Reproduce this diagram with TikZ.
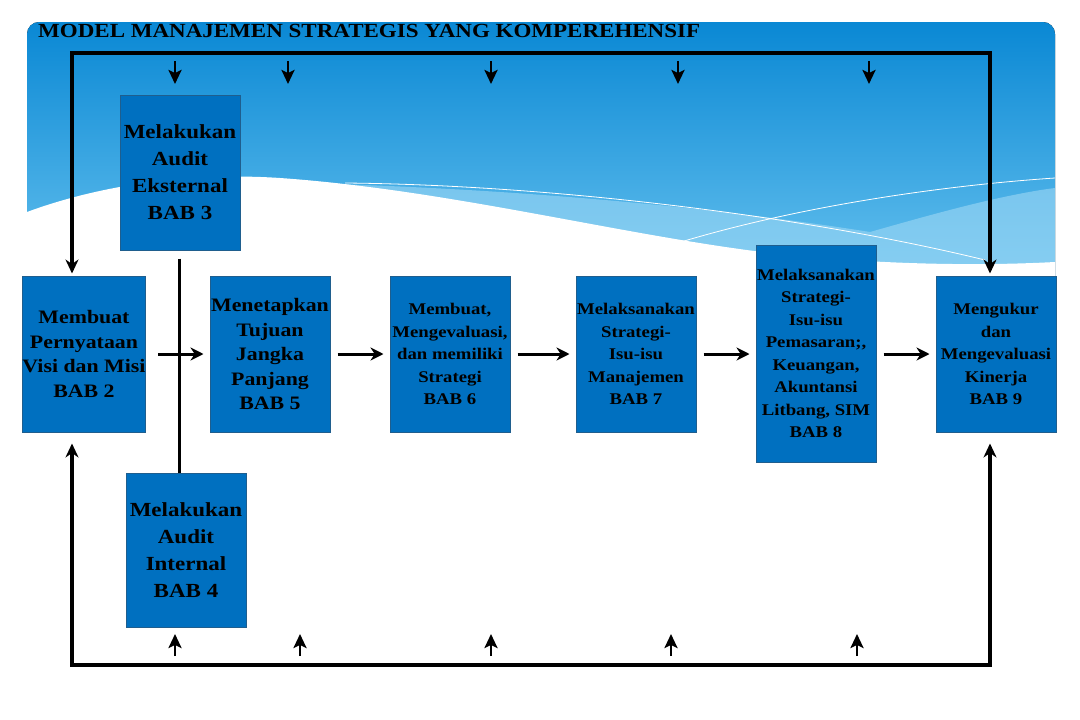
\documentclass[tikz,border=0pt]{standalone}
\usepackage{fontspec}
\setmainfont{Liberation Serif}[FakeStretch=1.15]
\usetikzlibrary{arrows.meta}
\definecolor{boxblue}{HTML}{0070C0}
\definecolor{boxedge}{HTML}{1F5E8E}
\definecolor{bgtop}{HTML}{0A88D4}
\definecolor{bgbot}{HTML}{6CC5F0}
\definecolor{band}{HTML}{9ED8F5}
\begin{document}
\begin{tikzpicture}[x=1pt,y=-1pt,
  box/.style={draw=boxedge, line width=1pt, fill=boxblue, inner sep=0pt,
    minimum width=120pt, align=center, text=black},
  bigtxt/.style={font=\fontsize{20}{27}\selectfont\bfseries},
  midtxt/.style={font=\fontsize{19}{24.5}\selectfont\bfseries},
  smalltxt/.style={font=\fontsize{16.3}{22.5}\selectfont\bfseries},
  mainline/.style={line width=3.2pt},
  flow/.style={line width=3pt, -{Stealth[length=13pt,width=13pt]}},
  tick/.style={line width=2.6pt, -{Stealth[length=14pt,width=13pt,inset=3pt]}}
]
\useasboundingbox (0,0) rectangle (1080,720);
% background banner
\fill[top color=bgtop, bottom color=bgbot, rounded corners=12pt]
  (27,300) -- (27,22) -- (1055,22) -- (1055,300) -- cycle;
\fill[band, opacity=0.6] (300,183) .. controls (500,188) and (700,205) .. (870,232)
  .. controls (930,215) and (1000,195) .. (1055,188)
  -- (1055,300) -- (300,300) -- cycle;
\fill[white] (27,212) .. controls (100,185) and (190,172) .. (280,178)
  .. controls (450,190) and (620,235) .. (770,253)
  .. controls (880,265) and (980,266) .. (1055,262)
  -- (1055,305) -- (27,305) -- cycle;
\draw[white, line width=0.8pt] (345,183) .. controls (550,185) and (800,215) .. (985,260);
\draw[white, line width=0.8pt] (671,245) .. controls (800,205) and (950,185) .. (1055,178);
% title
\node[anchor=west, inner sep=0pt, font=\fontsize{20}{24}\selectfont\bfseries] (title) at (38,31)
  {MODEL MANAJEMEN STRATEGIS YANG KOMPEREHENSIF};
% boxes
\node[box, midtxt, minimum height=156pt] (b1) at (84,354)
  {Membuat\\Pernyataan\\Visi dan Misi\\BAB 2};
\node[box, bigtxt, minimum height=155pt] (ea) at (180,172.5)
  {Melakukan\\Audit\\Eksternal\\BAB 3};
\node[box, midtxt, minimum height=156pt] (b5) at (270,354)
  {Menetapkan\\Tujuan\\Jangka\\Panjang\\BAB 5};
\node[box, smalltxt, minimum height=156pt] (b6) at (450,354)
  {Membuat,\\Mengevaluasi,\\dan memiliki\\Strategi\\BAB 6};
\node[box, smalltxt, minimum height=156pt] (b7) at (636,354)
  {Melaksanakan\\Strategi-\\Isu-isu\\Manajemen\\BAB 7};
\node[box, smalltxt, minimum height=217pt] (b8) at (816,353.5)
  {Melaksanakan\\Strategi-\\Isu-isu\\Pemasaran;,\\Keuangan,\\Akuntansi\\Litbang, SIM\\BAB 8};
\node[box, smalltxt, minimum height=156pt] (b9) at (996,354)
  {Mengukur\\dan\\Mengevaluasi\\Kinerja\\BAB 9};
\node[box, bigtxt, minimum height=154pt] (ia) at (186,550)
  {Melakukan\\Audit\\Internal\\BAB 4};
% flow arrows
\draw[flow, shorten <=12pt, shorten >=6pt] (b1) -- (b5);
\draw[flow, shorten <=7pt, shorten >=6pt] (b5) -- (b6);
\draw[flow, shorten <=7pt, shorten >=6pt] (b6) -- (b7);
\draw[flow, shorten <=7pt, shorten >=6pt] (b7) -- (b8.west |- b7);
\draw[flow, shorten <=7pt, shorten >=6pt] (b8.east |- b9) -- (b9);
% audit connector
\coordinate (vx) at (179,0);
\draw[line width=3pt, shorten <=8pt] (ea.south -| vx) -- (ia.north -| vx);
% top feedback loop
\coordinate (tl) at (72,53);
\coordinate (tr) at (990,53);
\draw[mainline, {Stealth[length=14pt,width=13pt]}-{Stealth[length=14pt,width=13pt]},
  shorten <=2pt, shorten >=2pt] (b1.north -| tl) -- (tl) -- (tr) -- (b9.north -| tr);
% bottom feedback loop
\coordinate (bl) at (72,665);
\coordinate (br) at (990,665);
\draw[mainline, {Stealth[length=14pt,width=13pt]}-{Stealth[length=14pt,width=13pt]},
  shorten <=11pt, shorten >=11pt] (b1.south -| bl) -- (bl) -- (br) -- (b9.south -| br);
% small input arrows (top)
\foreach \x [count=\i] in {175,288,491,678,869} {
  \coordinate (ts\i) at (\x,61);
  \coordinate (te\i) at (\x,84);
  \draw[tick] (ts\i) -- (te\i);
}
% small input arrows (bottom)
\foreach \x [count=\i] in {175,300,491,671,857} {
  \coordinate (bs\i) at (\x,656);
  \coordinate (be\i) at (\x,634);
  \draw[tick] (bs\i) -- (be\i);
}
\end{tikzpicture}
\end{document}
